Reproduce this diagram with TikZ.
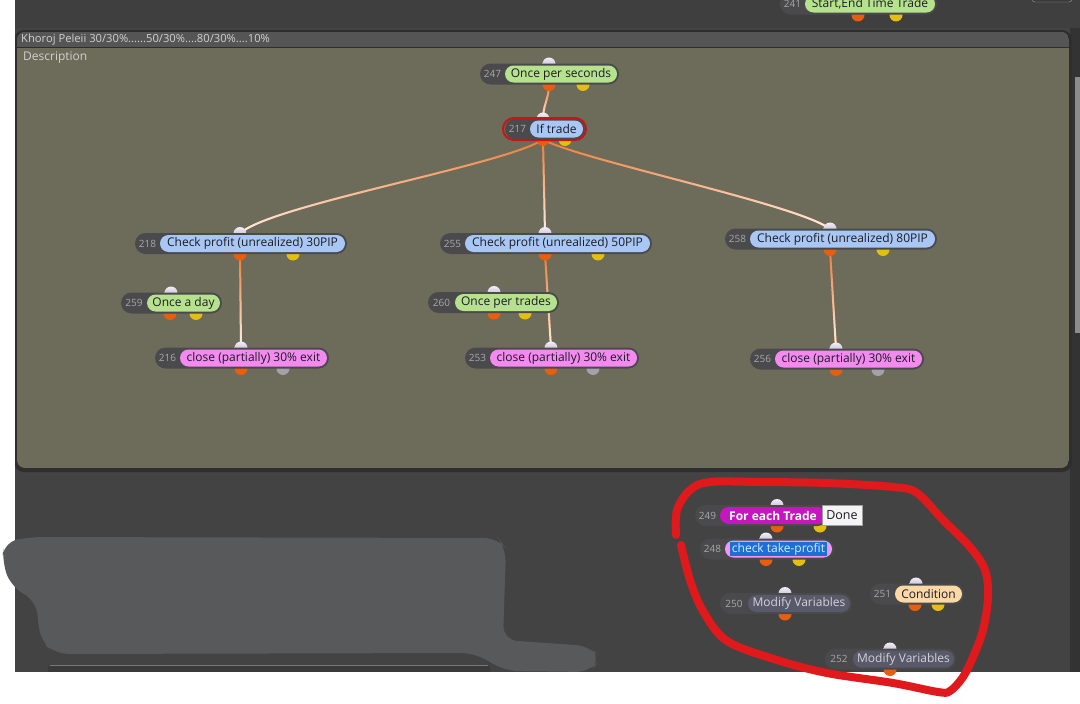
\documentclass[tikz,border=0pt]{standalone}
\usepackage{fontspec}
\setmainfont{Open Sans}
\usetikzlibrary{fadings}
\pgfdeclarelayer{bg}
\pgfdeclarelayer{conn}
\pgfdeclarelayer{ports}
\pgfsetlayers{bg,conn,ports,main}
\tikzfading[name=fadedown, top color=transparent!100, bottom color=transparent!0]
\definecolor{canvas}{HTML}{434343}
\definecolor{topstrip}{HTML}{3F3F3F}
\definecolor{groupbody}{HTML}{6D6C5B}
\definecolor{groupshadow}{HTML}{2E2E2E}
\definecolor{grouphead}{HTML}{555555}
\definecolor{headtext}{HTML}{CFCFCF}
\definecolor{pilldark}{HTML}{4A4A4C}
\definecolor{numgray}{HTML}{A8A8A8}
\definecolor{labtext}{HTML}{1C1C24}
\definecolor{lgreen}{HTML}{B6E28E}
\definecolor{lblue}{HTML}{A9C7F4}
\definecolor{lpink}{HTML}{F28AF0}
\definecolor{magen}{HTML}{C417BD}
\definecolor{lpinktwo}{HTML}{EE98F4}
\definecolor{selblue}{HTML}{1E6FD4}
\definecolor{seltext}{HTML}{D8ECFF}
\definecolor{modgray}{HTML}{595969}
\definecolor{modtext}{HTML}{D2D2DC}
\definecolor{peach}{HTML}{FCD8A6}
\definecolor{porto}{HTML}{E65E0E}
\definecolor{porty}{HTML}{E4BE10}
\definecolor{portg}{HTML}{A2A2AA}
\definecolor{inhi}{HTML}{F2EEF6}
\definecolor{inlo}{HTML}{ADA2C2}
\definecolor{linko}{HTML}{EE7A30}
\definecolor{linkw}{HTML}{FBF3F0}
\definecolor{redmark}{HTML}{E0191C}
\definecolor{redsel}{HTML}{C81414}
\definecolor{blobc}{HTML}{58595B}
\definecolor{rightstrip}{HTML}{333333}
\definecolor{scrollc}{HTML}{8C8C8C}
\definecolor{panelc}{HTML}{3A3A3A}
\definecolor{panelline}{HTML}{777777}
\definecolor{donefill}{HTML}{F4F4F4}
\definecolor{doneline}{HTML}{A0A0A0}
\tikzset{
  lab/.style={rounded corners=8.5, minimum height=17, inner sep=0pt, text=labtext, font=\fontsize{12}{14}\selectfont},
  numtxt/.style={inner sep=0pt, text=numgray, font=\fontsize{10}{12}\selectfont},
  pillbg/.style={fill=pilldark},
  portdot/.style={circle, minimum size=13, inner sep=0pt},
  inport/.style={portdot, top color=inhi, bottom color=inlo},
  outo/.style={portdot, fill=porto},
  outy/.style={portdot, fill=porty},
  outg/.style={portdot, fill=portg},
  linkbase/.style={draw=linko, line width=2},
  linktop/.style={draw=linkw, line width=2, path fading=fadedown},
  redloop/.style={draw=redmark, line width=8, line cap=round, line join=round},
}
% name, number, dark-left, label-left, label-right, y-centre, label style, text
\newcommand\blk[8]{%
  \fill[pillbg, rounded corners=10.5] (#3,#6-10.5) rectangle ({#5+2},#6+10.5);
  \node[numtxt] (#1n) at ({(#3+#4)/2},#6) {#2};
  \node[lab,#7,minimum width={#5-#4}] (#1) at ({(#4+#5)/2},#6) {#8};
}
\newcommand\inp[3]{\begin{pgfonlayer}{ports}\node[inport] (#1) at (#2,#3-10) {};\end{pgfonlayer}}
\newcommand\outp[4]{\begin{pgfonlayer}{ports}\node[#4] (#1) at (#2,#3+10.5) {};\end{pgfonlayer}}
\newcommand\glink[1]{\begin{pgfonlayer}{conn}\draw[linkbase] #1;\draw[linktop] #1;\end{pgfonlayer}}
\begin{document}
\begin{tikzpicture}[x=1pt,y=-1pt]
\useasboundingbox (0,0) rectangle (1080,704);
\begin{pgfonlayer}{bg}
  \fill[white] (0,0) rectangle (1080,704);
  \fill[canvas] (15,0) rectangle (1080,672);
  \fill[topstrip] (15,0) rectangle (1080,28);
  \fill[rightstrip] (1070,28) rectangle (1080,672);
  \fill[scrollc] (1075,77) rectangle (1080,333);
  \draw[doneline, fill=panelc, rounded corners=3] (1032,-6) rectangle (1072,2);
  % group frame
  \fill[groupshadow, rounded corners=10] (14,30) rectangle (1072,472);
  \begin{scope}
    \clip[rounded corners=8] (17,32) rectangle (1069,468);
    \fill[groupbody] (17,32) rectangle (1069,468);
    \fill[grouphead] (17,32) rectangle (1069,47);
    \draw[groupshadow, line width=1] (17,47.5) -- (1069,47.5);
  \end{scope}
  \node[anchor=west, inner sep=0pt, text=headtext, font=\fontsize{11.2}{13}\selectfont] (gtitle) at (21,39.5) {Khoroj Peleii 30/30\%......50/30\%....80/30\%....10\%};
  \node[anchor=west, inner sep=0pt, text=headtext, font=\fontsize{12}{14}\selectfont] (gdesc) at (23,57.5) {Description};
  % bottom-left panel
  \fill[panelc, rounded corners=3] (48,665) rectangle (490,676);
  \draw[panelline] (50,665.5) -- (488,665.5);
  \fill[white] (0,672) rectangle (1080,704);
  \fill[white] (0,0) rectangle (15,672);
\end{pgfonlayer}

% ---- top node
\blk{n241}{241}{780}{805}{935}{4}{fill=lgreen}{Start,End Time Trade}
\outp{n241o}{858}{4.5}{outo}
\outp{n241y}{896}{4.5}{outy}

% ---- group nodes
\blk{n247}{247}{480}{505}{617}{74}{fill=lgreen}{Once per seconds}
\inp{n247i}{549}{74}
\outp{n247o}{549}{74}{outo}
\outp{n247y}{583}{74}{outy}

\blk{n217}{217}{505}{530}{583}{129}{fill=lblue}{If trade}
\draw[redsel, line width=2, rounded corners=11] (503,118) rectangle (586,140);
\inp{n217i}{543}{129}
\outp{n217o}{543}{129}{outo}
\outp{n217y}{565}{129}{outy}

\blk{n218}{218}{135}{160}{345}{243.5}{fill=lblue}{Check profit (unrealized) 30PIP}
\inp{n218i}{240}{243.5}
\outp{n218o}{240}{243.5}{outo}
\outp{n218y}{293}{243.5}{outy}

\blk{n259}{259}{121}{147}{220}{303}{fill=lgreen}{Once a day}
\inp{n259i}{171}{303}
\outp{n259o}{170}{303}{outo}
\outp{n259y}{196}{303}{outy}

\blk{n216}{216}{155}{180}{327}{358}{fill=lpink}{close (partially) 30\% exit}
\inp{n216i}{241}{358}
\outp{n216o}{241}{358}{outo}
\outp{n216g}{283}{358}{outg}

\blk{n255}{255}{440}{465}{650}{243.5}{fill=lblue}{Check profit (unrealized) 50PIP}
\inp{n255i}{545}{243.5}
\outp{n255o}{545}{243.5}{outo}
\outp{n255y}{598}{243.5}{outy}

\blk{n260}{260}{428}{455}{557}{302.5}{fill=lgreen}{Once per trades}
\inp{n260i}{494}{302.5}
\outp{n260o}{494}{302.5}{outo}
\outp{n260y}{525}{302.5}{outy}

\blk{n253}{253}{465}{490}{637}{358}{fill=lpink}{close (partially) 30\% exit}
\inp{n253i}{551}{358}
\outp{n253o}{551}{358}{outo}
\outp{n253g}{593}{358}{outg}

\blk{n258}{258}{725}{750}{935}{239}{fill=lblue}{Check profit (unrealized) 80PIP}
\inp{n258i}{830}{239}
\outp{n258o}{830}{239}{outo}
\outp{n258y}{883}{239}{outy}

\blk{n256}{256}{750}{775}{922}{359}{fill=lpink}{close (partially) 30\% exit}
\inp{n256i}{836}{359}
\outp{n256o}{836}{359}{outo}
\outp{n256g}{878}{359}{outg}

% ---- connectors
\glink{(n247o.center) .. controls +(0,14) and +(0,-14) .. (n217i.center)}
\glink{(n217o.center) .. controls (505,165) and (270,205) .. (n218i.center)}
\glink{(n217o.center) -- (n255i.center)}
\glink{(n217o.center) .. controls (580,160) and (800,205) .. (n258i.center)}
\glink{(n218o.center) -- (n216i.center)}
\glink{(n255o.center) -- (n253i.center)}
\glink{(n258o.center) -- (n256i.center)}

% ---- loose nodes below the group
\blk{n249}{249}{695}{720}{826}{515.5}{fill=magen, text=white, font=\fontsize{12}{14}\selectfont\bfseries}{For each Trade}
\node[fill=donefill, draw=doneline, line width=0.6, minimum width=40, minimum height=19.5, inner sep=0pt, text=labtext, font=\fontsize{12.5}{14}\selectfont] (n249d) at (842,515.5) {Done};
\inp{n249i}{777}{515.5}
\outp{n249o}{777}{515.5}{outo}
\outp{n249y}{820}{515.5}{outy}

\blk{n248}{248}{700}{725}{832}{549}{fill=lpinktwo}{}
\node[fill=selblue, text=seltext, minimum width=97, minimum height=14, inner sep=0pt, font=\fontsize{12}{14}\selectfont] (n248t) at (778.5,549) {check take-profit};
\inp{n248i}{766}{549}
\outp{n248o}{766}{549}{outo}
\outp{n248y}{799}{549}{outy}

\blk{n250}{250}{720}{748}{850}{603.5}{fill=modgray, text=modtext}{Modify Variables}
\inp{n250i}{785}{603.5}
\outp{n250o}{785}{603.5}{outo}

\blk{n251}{251}{870}{895}{962}{594}{fill=peach}{Condition}
\inp{n251i}{916}{594}
\outp{n251o}{915}{594}{outo}
\outp{n251y}{938}{594}{outy}

\blk{n252}{252}{825}{853}{954}{659}{fill=modgray, text=modtext}{Modify Variables}
\inp{n252i}{890}{659}
\outp{n252o}{890}{659}{outo}

% ---- grey scribble
\fill[blobc, rounded corners=14] (4,542) -- (30,537) -- (498,538) -- (506,548) -- (503,640) -- (590,646) -- (601,659) -- (590,672) -- (505,671) -- (475,653) -- (55,654) -- (40,640) -- (36,600) -- (12,588) -- (2,562) -- cycle;

% ---- red hand-drawn loop
\draw[redloop] plot[smooth, tension=0.55] coordinates {(676,535) (677,510) (690,490) (710,482) (760,482) (827,483) (893,487) (917,493) (943,520) (970,547) (985,570) (988,597) (983,630) (973,657) (963,677) (950,691) (938,692) (893,683) (827,673) (777,660) (727,641) (703,611) (690,580) (681,545)};
\end{tikzpicture}
\end{document}
